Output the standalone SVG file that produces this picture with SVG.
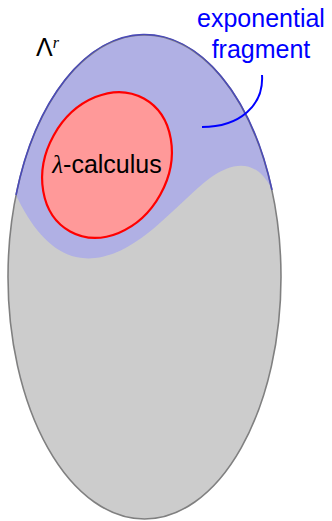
<svg xmlns="http://www.w3.org/2000/svg" width="332" height="521" viewBox="0 0 332 521">
<style>
.lbl{font-family:"Liberation Sans",Arial,sans-serif;font-size:25px;}
.blue{fill:#0000ff;}
</style>
<defs>
<clipPath id="clipOuter"><ellipse cx="144.5" cy="277" rx="136.5" ry="242"/></clipPath>
</defs>
<rect width="332" height="521" fill="#ffffff"/>
<g id="lambda-r">
<ellipse cx="144.5" cy="277" rx="136.5" ry="242" fill="#b0b0e4"/>
<path d="M16,195 C35,235 60,262 95,258 C140,253 175,205 210,178 C235,160 258,160 272,190 L300,190 L300,530 L0,530 L0,195 Z" fill="#cccccc" clip-path="url(#clipOuter)"/>
<ellipse cx="144.5" cy="277" rx="136.5" ry="242" fill="none" stroke="#808080" stroke-width="1.6"/>
<path d="M16,195 A136.5,242 0 0 1 272,190" fill="none" stroke="#4a4ab8" stroke-width="1.6"/>
<text class="lbl" x="36" y="56" font-size="23">Λ<tspan font-family="'Liberation Serif',serif" font-style="italic" font-size="16" dy="-8">r</tspan></text>
</g>
<g id="lambda-calculus">
<ellipse cx="0" cy="0" rx="61" ry="76" transform="translate(107,165) rotate(29)" fill="#ff9999" stroke="#ff0000" stroke-width="2.2"/>
<text class="lbl" x="107" y="173" text-anchor="middle" font-size="26.5"><tspan font-family="'Liberation Serif',serif" font-style="italic">λ</tspan>-calculus</text>
</g>
<g id="exponential-fragment">
<text class="lbl blue" x="261" y="27" text-anchor="middle">exponential</text>
<text class="lbl blue" x="261" y="58" text-anchor="middle">fragment</text>
</g>
<g id="connectors">
<path d="M262,75 C264,105 240,127 202,127" fill="none" stroke="#0000ff" stroke-width="2"/>
</g>
</svg>
